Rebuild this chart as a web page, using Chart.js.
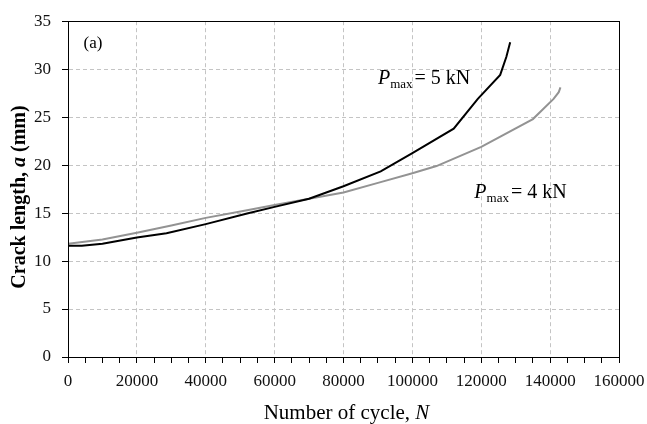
<!DOCTYPE html>
<html>
<head>
<meta charset="utf-8">
<script src="https://cdn.jsdelivr.net/npm/chart.js@4.4.1/dist/chart.umd.min.js"></script>
<style>
  body { margin: 0; background: #fff; }
  #wrap { width: 647px; height: 424px; }
</style>
</head>
<body>
<div id="wrap"><canvas id="crackChart" width="647" height="424"></canvas></div>
<script>
// Pmax = 5 kN (black)
const cycles5 = [0, 4000, 10000, 20000, 28600, 40000, 52000, 60000, 70000, 80000, 90800, 100000, 112000, 119000, 125500, 127300, 128400];
const crack5 = [11.6, 11.6, 11.8, 12.45, 12.9, 13.85, 14.95, 15.65, 16.5, 17.8, 19.35, 21.25, 23.8, 26.9, 29.4, 31.3, 32.8];

// Pmax = 4 kN (grey)
const cycles4 = [0, 10000, 20000, 30000, 40000, 52000, 60000, 70000, 80000, 90000, 100000, 107000, 120000, 135000, 141000, 142500, 143000];
const crack4 = [11.8, 12.25, 12.95, 13.7, 14.5, 15.3, 15.85, 16.5, 17.15, 18.15, 19.15, 19.9, 21.9, 24.8, 26.9, 27.6, 28.1];

const seriesLoads = ['5 kN', '4 kN'];
const seriesColors = ['#000000', '#939393'];
// where the load labels sit, in data units (left edge, baseline)
const labelCycles = [90000, 118000];
const labelCracks = [28.5, 16.6];

const xMax = 160000, xMajor = 20000, xMinor = 5000;
const yMax = 35, yStep = 5;

const serif = '"Liberation Serif", "Times New Roman", serif';

function toPoints(xs, ys) {
    return xs.map((x, i) => ({ x: x, y: ys[i] }));
}

const textPlugin = {
    id: 'textPlugin',
    afterDraw(chart) {
        const ctx = chart.ctx;
        const area = chart.chartArea;
        const xs = chart.scales.x, ys = chart.scales.y;
        ctx.save();

        // frame around plot
        ctx.strokeStyle = '#000';
        ctx.lineWidth = 1;
        ctx.strokeRect(Math.round(area.left) + 0.5, Math.round(area.top) + 0.5,
            Math.round(area.right - area.left), Math.round(area.bottom - area.top));

        ctx.fillStyle = '#000';
        ctx.textBaseline = 'middle';
        ctx.textAlign = 'left';

        // panel tag
        ctx.font = '17px ' + serif;
        ctx.fillText('(a)', xs.getPixelForValue(4500), ys.getPixelForValue(32.7));

        // load labels
        ctx.textBaseline = 'alphabetic';
        seriesLoads.forEach((load, i) => {
            let px = xs.getPixelForValue(labelCycles[i]);
            const py = ys.getPixelForValue(labelCracks[i]);
            ctx.font = 'italic 20px ' + serif;
            ctx.fillText('P', px, py);
            px += ctx.measureText('P').width;
            ctx.font = '13px ' + serif;
            ctx.fillText('max', px, py + 4);
            px += ctx.measureText('max').width + 2;
            ctx.font = '20px ' + serif;
            ctx.fillText('= ' + load, px, py);
        });

        // x axis title
        const xa = 'Number of cycle, ', xb = 'N';
        ctx.font = '21px ' + serif;
        const wa = ctx.measureText(xa).width;
        ctx.font = 'italic 21px ' + serif;
        const wb = ctx.measureText(xb).width;
        let tx = (area.left + area.right) / 2 + 3 - (wa + wb) / 2;
        ctx.font = '21px ' + serif;
        ctx.fillText(xa, tx, 419);
        ctx.font = 'italic 21px ' + serif;
        ctx.fillText(xb, tx + wa, 419);

        // y axis title (rotated)
        const ya = 'Crack length, ', yb = 'a', yc = ' (mm)';
        ctx.font = 'bold 20px ' + serif;
        const w1 = ctx.measureText(ya).width, w3 = ctx.measureText(yc).width;
        ctx.font = 'italic bold 20px ' + serif;
        const w2 = ctx.measureText(yb).width;
        ctx.translate(20, 197);
        ctx.rotate(-Math.PI / 2);
        ctx.textBaseline = 'middle';
        let ty = -(w1 + w2 + w3) / 2;
        ctx.font = 'bold 20px ' + serif;
        ctx.fillText(ya, ty, 0);
        ctx.font = 'italic bold 20px ' + serif;
        ctx.fillText(yb, ty + w1, 0);
        ctx.font = 'bold 20px ' + serif;
        ctx.fillText(yc, ty + w1 + w2, 0);

        ctx.restore();
    }
};

const ctx = document.getElementById('crackChart').getContext('2d');
new Chart(ctx, {
    type: 'scatter',
    data: {
        datasets: [{
            label: 'Pmax = 5 kN',
            data: toPoints(cycles5, crack5),
            showLine: true,
            borderColor: seriesColors[0],
            borderWidth: 2,
            pointRadius: 0,
            tension: 0
        }, {
            label: 'Pmax = 4 kN',
            data: toPoints(cycles4, crack4),
            showLine: true,
            borderColor: seriesColors[1],
            borderWidth: 2,
            pointRadius: 0,
            tension: 0
        }]
    },
    options: {
        responsive: false,
        animation: false,
        layout: { padding: { top: 19, right: 0, left: 0, bottom: 0 } },
        plugins: {
            legend: { display: false },
            tooltip: { enabled: false }
        },
        scales: {
            x: {
                type: 'linear',
                min: 0,
                max: xMax,
                afterFit: s => { s.height = 67; s.paddingRight = 28; s.paddingLeft = 0; },
                ticks: {
                    stepSize: xMinor,
                    autoSkip: false,
                    maxRotation: 0,
                    padding: 8,
                    color: '#111',
                    font: { family: serif, size: 17 },
                    callback: v => (v % xMajor === 0 ? String(v) : '')
                },
                grid: {
                    color: c => (c.tick && c.tick.value % xMajor === 0 ? '#c4c4c4' : 'rgba(0,0,0,0)'),
                    tickColor: '#000',
                    tickLength: 6,
                    lineWidth: 1
                },
                border: { display: true, color: '#000', width: 1, dash: [4, 3] }
            },
            y: {
                min: 0,
                max: yMax,
                afterFit: s => { s.width = 68; },
                ticks: {
                    stepSize: yStep,
                    padding: 11,
                    color: '#111',
                    font: { family: serif, size: 17 },
                    callback: v => String(v)
                },
                grid: {
                    color: '#c4c4c4',
                    tickColor: '#000',
                    tickLength: 6,
                    lineWidth: 1
                },
                border: { display: true, color: '#000', width: 1, dash: [4, 3] }
            }
        }
    },
    plugins: [textPlugin]
});
</script>
</body>
</html>
